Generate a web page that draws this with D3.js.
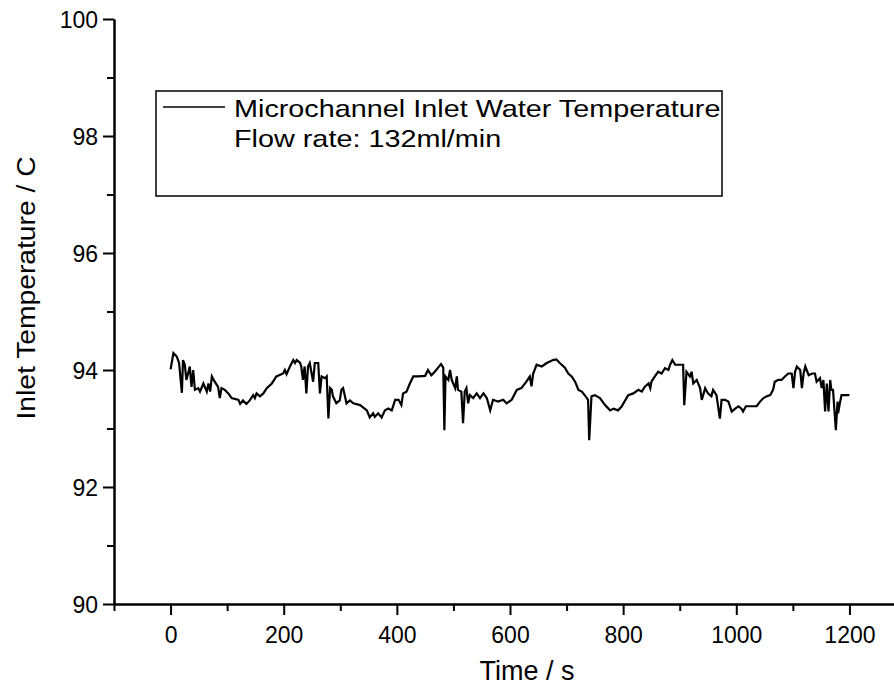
<!DOCTYPE html>
<html>
<head>
  <meta charset="utf-8"/>
  <title>Inlet Temperature</title>
  <style type="text/css">
    body {
      padding:0;
      margin:0;
      background-color:white;
    }
    svg text {
      font-family: "Liberation Sans", Arial, Helvetica, sans-serif;
      fill: black;
    }
  </style>
  <script src="https://cdn.jsdelivr.net/npm/d3@7/dist/d3.min.js" charset="utf-8"></script>
</head>

<body>
  <script type="text/javascript">

  // DATA
  var time = [0, 5, 11, 15, 20, 22, 25, 28, 34, 37, 40, 43, 49, 52, 58, 64, 67, 70, 73, 78,
              84, 87, 90, 96, 102, 108, 120, 123, 128, 134, 140, 146, 149, 152, 158, 164, 170, 179, 187, 199,
              202, 205, 211, 217, 220, 223, 229, 231, 234, 237, 240, 243, 246, 252, 255, 261, 264, 267, 273, 276,
              279, 282, 285, 287, 293, 299, 302, 305, 311, 317, 323, 335, 347, 352, 358, 361, 367, 373, 379, 385,
              391, 397, 403, 408, 411, 417, 423, 429, 438, 450, 455, 461, 467, 473, 478, 482, 484, 486, 491, 494,
              497, 503, 506, 508, 514, 517, 520, 523, 526, 529, 535, 541, 547, 553, 559, 565, 570, 579, 588, 594,
              603, 612, 620, 629, 635, 638, 641, 647, 656, 665, 676, 682, 688, 697, 703, 709, 715, 721, 727, 732,
              738, 740, 744, 750, 759, 768, 777, 783, 791, 797, 809, 818, 827, 833, 838, 845, 848, 850, 856, 862,
              868, 874, 880, 883, 887, 892, 906, 908, 912, 918, 921, 924, 930, 936, 939, 945, 950, 956, 959, 965,
              971, 974, 980, 986, 992, 998, 1004, 1009, 1012, 1017, 1036, 1042, 1048, 1054, 1060, 1065, 1068, 1074, 1080, 1086,
              1092, 1098, 1101, 1104, 1107, 1113, 1116, 1119, 1122, 1128, 1134, 1139, 1142, 1148, 1151, 1154, 1157, 1160, 1163, 1166,
              1168, 1171, 1176, 1179, 1180, 1183, 1186, 1200];

  var temp = [94.01, 94.29, 94.23, 94.12, 93.61, 94.17, 94.10, 93.83, 94.06, 93.71, 94.00, 93.66, 93.69, 93.63, 93.77, 93.63, 93.77, 93.63, 93.89, 93.80,
              93.71, 93.52, 93.69, 93.66, 93.60, 93.52, 93.49, 93.42, 93.48, 93.42, 93.48, 93.57, 93.52, 93.60, 93.55, 93.60, 93.69, 93.77, 93.89, 93.94,
              94.00, 93.93, 94.06, 94.17, 94.12, 94.17, 94.12, 94.06, 93.83, 94.06, 93.60, 94.06, 94.12, 93.80, 94.12, 94.12, 93.60, 93.89, 93.86, 93.89,
              93.17, 93.69, 93.66, 93.55, 93.43, 93.48, 93.66, 93.69, 93.43, 93.48, 93.43, 93.40, 93.31, 93.19, 93.26, 93.20, 93.26, 93.19, 93.31, 93.34,
              93.31, 93.49, 93.49, 93.40, 93.60, 93.63, 93.77, 93.89, 93.89, 93.90, 94.00, 93.91, 93.97, 94.04, 94.10, 94.04, 92.97, 93.89, 93.83, 94.00,
              93.83, 93.69, 93.89, 93.66, 93.63, 93.09, 93.63, 93.69, 93.43, 93.57, 93.52, 93.60, 93.52, 93.60, 93.52, 93.31, 93.49, 93.46, 93.49, 93.43,
              93.49, 93.66, 93.69, 93.80, 93.89, 93.72, 93.94, 94.09, 94.06, 94.12, 94.17, 94.18, 94.12, 94.04, 93.94, 93.89, 93.80, 93.66, 93.63, 93.57,
              93.49, 92.80, 93.55, 93.57, 93.52, 93.40, 93.31, 93.34, 93.31, 93.37, 93.57, 93.60, 93.66, 93.63, 93.71, 93.77, 93.69, 93.80, 93.89, 93.97,
              93.94, 94.03, 94.00, 94.09, 94.17, 94.09, 94.09, 93.40, 93.97, 93.89, 93.97, 93.77, 93.83, 93.69, 93.49, 93.69, 93.60, 93.55, 93.66, 93.57,
              93.17, 93.49, 93.49, 93.46, 93.29, 93.34, 93.38, 93.34, 93.29, 93.38, 93.38, 93.46, 93.52, 93.55, 93.57, 93.66, 93.80, 93.83, 93.83, 93.89,
              93.94, 93.94, 93.69, 93.97, 94.06, 94.00, 93.69, 93.94, 94.06, 93.91, 93.94, 93.94, 93.80, 93.86, 93.69, 93.83, 93.29, 93.77, 93.29, 93.83,
              93.66, 93.66, 92.97, 93.46, 93.26, 93.43, 93.57, 93.57];

  var xMajorTicks = [0, 200, 400, 600, 800, 1000, 1200],
      xMinorTicks = [-100, 100, 300, 500, 700, 900, 1100],
      yMajorTicks = [90, 92, 94, 96, 98, 100],
      yMinorTicks = [91, 93, 95, 97, 99];

  var legendLines = ["Microchannel Inlet Water Temperature", "Flow rate: 132ml/min"];

  var w = 894, h = 686;

  var svg = d3.select("body").append("svg")
                             .attr("width", w)
                             .attr("height", h);

  // SCALES
  var x = d3.scaleLinear().domain([-100, 1300]).range([114, 906]);
  var y = d3.scaleLinear().domain([90, 100]).range([604, 19]);

  // X AXIS
  var xMinor = svg.append("g")
                  .attr("transform", "translate(0,604)")
                  .call(d3.axisBottom(x).tickValues(xMinorTicks).tickSize(7).tickSizeOuter(0).tickFormat(""));
  var xAxis = svg.append("g")
                 .attr("transform", "translate(0,604)")
                 .call(d3.axisBottom(x).tickValues(xMajorTicks).tickSize(11).tickSizeOuter(0).tickPadding(12)
                         .tickFormat(d3.format("d")));

  // Y AXIS
  var yMinor = svg.append("g")
                  .attr("transform", "translate(114,0)")
                  .call(d3.axisLeft(y).tickValues(yMinorTicks).tickSize(7).tickSizeOuter(0).tickFormat(""));
  var yAxis = svg.append("g")
                 .attr("transform", "translate(114,0)")
                 .call(d3.axisLeft(y).tickValues(yMajorTicks).tickSize(11).tickSizeOuter(0).tickPadding(5)
                         .tickFormat(d3.format("d")));

  svg.selectAll(".domain, .tick line").attr("stroke", "black").attr("stroke-width", 2);
  svg.selectAll(".tick text").attr("font-size", 23).attr("font-family", null);
  yAxis.selectAll(".tick text").attr("dy", "0.36em");

  // AXIS TITLES
  svg.append("text")
     .attr("x", 527)
     .attr("y", 680)
     .attr("text-anchor", "middle")
     .style("font-size", "27px")
     .text("Time / s");

  svg.append("text")
     .attr("transform", "translate(35,288) rotate(-90) scale(1.13,1)")
     .attr("text-anchor", "middle")
     .style("font-size", "25px")
     .text("Inlet Temperature / C");

  // DATA LINE
  var points = time.map(function(t, i) { return [t, temp[i]]; });
  var line = d3.line()
               .x(function(d) { return x(d[0]); })
               .y(function(d) { return y(d[1]); });

  svg.append("path")
     .datum(points)
     .attr("d", line)
     .attr("fill", "none")
     .attr("stroke", "black")
     .attr("stroke-width", 2.2)
     .attr("stroke-linejoin", "miter");

  // LEGEND
  var legend = svg.append("g").attr("id", "legend");

  legend.append("rect")
        .attr("x", 156)
        .attr("y", 91)
        .attr("width", 566)
        .attr("height", 105)
        .attr("fill", "white")
        .attr("stroke", "black")
        .attr("stroke-width", 1.5);

  legend.append("line")
        .attr("x1", 163).attr("x2", 225)
        .attr("y1", 107).attr("y2", 107)
        .attr("stroke", "black")
        .attr("stroke-width", 1.3);

  legend.selectAll("text.leg")
        .data(legendLines)
        .enter().append("text")
        .attr("class", "leg")
        .attr("transform", function(d, i) { return "translate(234," + (117 + i * 30) + ") scale(1.2,1)"; })
        .style("font-size", "24px")
        .text(function(d) { return d; });

  </script>
</body>
</html>
